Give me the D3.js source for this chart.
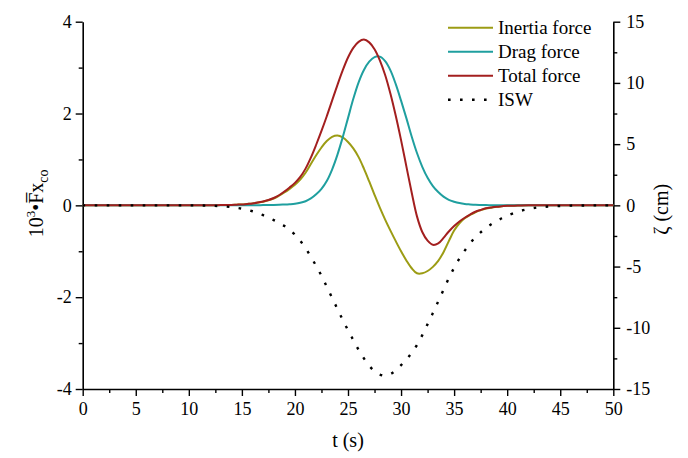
<!DOCTYPE html>
<html>
<head>
<meta charset="utf-8">
<script src="https://cdn.jsdelivr.net/npm/d3@7"></script>
<style>
  html, body { margin: 0; padding: 0; background: #fff; }
  svg { display: block; }
  text { font-family: "Liberation Serif", "Times New Roman", serif; fill: #000; }
</style>
</head>
<body>
<svg id="chart" width="688" height="458"></svg>
<script>
// Time samples (s)
const times = [0,1,2,3,4,5,6,7,8,9,10,11,12,13,
  14,14.5,15,15.5,16,16.5,17,17.5,18,18.5,19,19.5,20,20.5,21,21.5,22,22.5,23,23.5,24,24.5,
  25,25.5,26,26.5,27,27.5,28,28.5,29,29.5,30,30.5,31,31.5,32,32.5,33,33.5,34,34.5,
  35,35.5,36,36.5,37,37.5,38,38.5,39,39.5,40,
  41,42,43,44,45,46,47,48,49,50];

// Non-dimensional force x 10^3
const inertiaForce = [0,0,0,0,0,0,0,0,0,0,0,0,0,0.005,
  0.01,0.015,0.02,0.03,0.04,0.06,0.08,0.11,0.15,0.21,0.28,0.36,0.45,0.56,0.71,0.90,1.09,1.26,1.40,1.49,1.52,1.48,
  1.38,1.24,1.05,0.80,0.52,0.23,-0.05,-0.31,-0.55,-0.78,-1.00,-1.20,-1.37,-1.48,-1.48,-1.43,-1.34,-1.21,-1.02,-0.78,
  -0.55,-0.39,-0.28,-0.21,-0.15,-0.105,-0.07,-0.05,-0.03,-0.02,-0.01,
  -0.005,0,0,0,0,0,0,0,0,0];

const dragForce = [0,0,0,0,0,0,0,0,0,0,0,0,0,0,
  0,0,0,0,0.002,0.003,0.005,0.007,0.01,0.013,0.018,0.025,0.035,0.055,0.09,0.15,0.24,0.36,0.53,0.78,1.10,1.48,
  1.90,2.32,2.68,2.95,3.13,3.23,3.24,3.14,2.94,2.64,2.28,1.90,1.50,1.14,0.84,0.60,0.42,0.29,0.19,0.12,
  0.08,0.05,0.03,0.02,0.012,0.008,0.005,0.003,0.002,0.001,0,
  0,0,0,0,0,0,0,0,0,0];

const totalForce = [0,0,0,0,0,0,0,0,0,0,0,0,0,0.005,
  0.01,0.015,0.02,0.03,0.04,0.06,0.085,0.115,0.16,0.22,0.30,0.39,0.49,0.62,0.80,1.04,1.32,1.62,1.94,2.28,2.62,2.94,
  3.22,3.43,3.56,3.61,3.55,3.40,3.16,2.84,2.43,1.95,1.42,0.85,0.28,-0.24,-0.58,-0.77,-0.86,-0.83,-0.71,-0.57,
  -0.45,-0.35,-0.27,-0.20,-0.14,-0.10,-0.065,-0.045,-0.03,-0.02,-0.01,
  -0.005,0,0,0,0,0,0,0,0,0];

// Internal solitary wave surface elevation (cm)
const iswElevation = [0,0,0,0,0,0,0,0,0,0,0,-0.01,-0.03,-0.07,
  -0.14,-0.2,-0.27,-0.36,-0.48,-0.62,-0.8,-1.0,-1.2,-1.42,-1.68,-2.0,-2.4,-2.9,-3.5,-4.2,-4.95,-5.75,-6.65,-7.55,-8.45,-9.35,
  -10.2,-11.0,-11.8,-12.5,-13.1,-13.55,-13.82,-13.9,-13.78,-13.48,-13.05,-12.6,-12.05,-11.4,-10.6,-9.7,-8.8,-7.85,-6.9,-5.95,
  -5.1,-4.35,-3.7,-3.1,-2.6,-2.2,-1.85,-1.55,-1.28,-1.05,-0.85,
  -0.52,-0.3,-0.16,-0.09,-0.05,-0.02,-0.01,0,0,0];

const xTicks = [0,5,10,15,20,25,30,35,40,45,50];
const xMinorTicks = [2.5,7.5,12.5,17.5,22.5,27.5,32.5,37.5,42.5,47.5];
const yLeftTicks = [-4,-2,0,2,4];
const yLeftMinorTicks = [-3,-1,1,3];
const yRightTicks = [-15,-10,-5,0,5,10,15];
const yRightMinorTicks = [-12.5,-7.5,-2.5,2.5,7.5,12.5];

const seriesNames = ["Inertia force", "Drag force", "Total force", "ISW"];
const seriesColors = ["#9c9c14", "#1f9f9f", "#a31f1f", "#000000"];

const svg = d3.select("#chart");
const plotLeft = 82.7, plotRight = 613.3, plotTop = 21.7, plotBottom = 389;

const x = d3.scaleLinear().domain([0, 50]).range([plotLeft, plotRight]);
const yL = d3.scaleLinear().domain([-4, 4]).range([plotBottom, plotTop]);
const yR = d3.scaleLinear().domain([-15, 15]).range([plotBottom, plotTop]);

const fontFamily = '"Liberation Serif", "Times New Roman", serif';

function styleAxis(g, size) {
  g.selectAll("path.domain").attr("stroke", "#000").attr("stroke-width", 1.6);
  g.selectAll(".tick line").attr("stroke", "#000").attr("stroke-width", 1.4);
  g.selectAll(".tick text").style("font-family", fontFamily).style("font-size", size + "px").attr("fill", "#000");
}

// Bottom axis
const gx = svg.append("g").attr("transform", `translate(0,${plotBottom})`)
  .call(d3.axisBottom(x).tickValues(xTicks).tickSize(7).tickSizeOuter(0).tickPadding(6).tickFormat(d3.format("d")));
styleAxis(gx, 18);
const gxm = svg.append("g").attr("transform", `translate(0,${plotBottom})`)
  .call(d3.axisBottom(x).tickValues(xMinorTicks).tickSize(4).tickSizeOuter(0).tickFormat(""));
gxm.select("path.domain").remove();
styleAxis(gxm, 18);

// Left axis
const gyl = svg.append("g").attr("transform", `translate(${plotLeft},0)`)
  .call(d3.axisLeft(yL).tickValues(yLeftTicks).tickSize(7).tickSizeOuter(0).tickPadding(4).tickFormat(d3.format("d")));
styleAxis(gyl, 18);
gyl.selectAll(".tick text").text(d => d < 0 ? "-" + Math.abs(d) : d);
const gylm = svg.append("g").attr("transform", `translate(${plotLeft},0)`)
  .call(d3.axisLeft(yL).tickValues(yLeftMinorTicks).tickSize(4).tickSizeOuter(0).tickFormat(""));
gylm.select("path.domain").remove();
styleAxis(gylm, 18);

// Right axis
const gyr = svg.append("g").attr("transform", `translate(${plotRight},0)`)
  .call(d3.axisRight(yR).tickValues(yRightTicks).tickSize(7).tickSizeOuter(0).tickPadding(6).tickFormat(d3.format("d")));
styleAxis(gyr, 18);
gyr.selectAll(".tick text").text(d => d < 0 ? "-" + Math.abs(d) : d);
const gyrm = svg.append("g").attr("transform", `translate(${plotRight},0)`)
  .call(d3.axisRight(yR).tickValues(yRightMinorTicks).tickSize(4).tickSizeOuter(0).tickFormat(""));
gyrm.select("path.domain").remove();
styleAxis(gyrm, 18);

// Curves
const smooth = d3.curveCatmullRom.alpha(0.5);
const forceLine = d3.line().x(d => x(d[0])).y(d => yL(d[1])).curve(smooth);
const iswLine = d3.line().x(d => x(d[0])).y(d => yR(d[1])).curve(smooth);

const plot = svg.append("g");
[inertiaForce, dragForce, totalForce].forEach((vals, i) => {
  plot.append("path")
    .datum(times.map((t, k) => [t, vals[k]]))
    .attr("d", forceLine)
    .attr("fill", "none")
    .attr("stroke", seriesColors[i])
    .attr("stroke-width", 2);
});
plot.append("path")
  .datum(times.map((t, k) => [t, iswElevation[k]]))
  .attr("d", iswLine)
  .attr("fill", "none")
  .attr("stroke", seriesColors[3])
  .attr("stroke-width", 2.4)
  .attr("stroke-dasharray", "2.6,9.4");

// Legend
const legend = svg.append("g");
seriesNames.forEach((name, i) => {
  const ly = 27.7 + i * 24;
  legend.append("line")
    .attr("x1", 448).attr("x2", 493).attr("y1", ly).attr("y2", ly)
    .attr("stroke", seriesColors[i])
    .attr("stroke-width", i === 3 ? 2.4 : 2)
    .attr("stroke-dasharray", i === 3 ? "2.6,9.4" : null);
  legend.append("text")
    .attr("x", 498).attr("y", ly + 6.6)
    .style("font-size", "19px")
    .text(name);
});

// Axis titles
svg.append("text")
  .attr("x", x(25)).attr("y", 447)
  .attr("text-anchor", "middle")
  .style("font-size", "20px")
  .text("t (s)");

const yTitle = svg.append("text")
  .attr("transform", `translate(43,${yL(0) - 2}) rotate(-90)`)
  .attr("text-anchor", "middle")
  .style("font-size", "20px");
yTitle.append("tspan").text("10");
yTitle.append("tspan").attr("dy", -8).style("font-size", "13px").text("3");
yTitle.append("tspan").attr("dy", 8).text("•F\u0305x");
yTitle.append("tspan").attr("dy", 5).style("font-size", "14px").text("co");

svg.append("text")
  .attr("transform", `translate(668,${yR(0) + 4}) rotate(-90)`)
  .attr("text-anchor", "middle")
  .style("font-size", "20px")
  .text("ζ (cm)");
</script>
</body>
</html>
